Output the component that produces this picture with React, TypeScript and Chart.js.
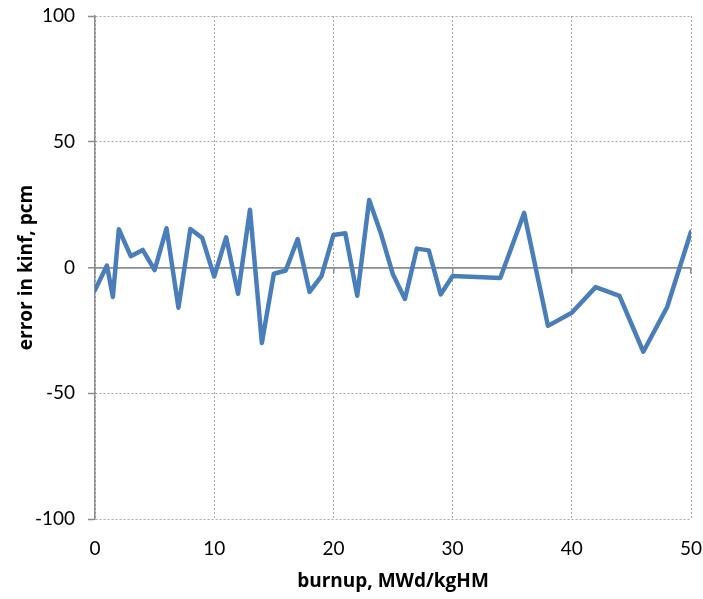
import React, { useEffect, useRef } from "react";
import { Chart, registerables } from "chart.js";

Chart.register(...registerables);

const burnup = [0, 1, 1.5, 2, 3, 4, 5, 6, 7, 8, 9, 10, 11, 12, 13, 14, 15, 16, 17, 18, 19, 20, 21, 22, 23, 24, 25, 26, 27, 28, 29, 30, 34, 36, 38, 40, 42, 44, 46, 48, 50];
const errorPcm = [-9, 0.8, -11.7, 15.2, 4.5, 7, -1, 15.6, -16, 15.3, 11.7, -3.6, 12, -10.5, 23, -30, -2.5, -1.2, 11.3, -9.7, -3.4, 12.9, 13.6, -11.2, 26.8, 13.3, -2.8, -12.5, 7.5, 6.8, -10.7, -3.4, -4.2, 21.7, -23.2, -18, -7.8, -11.3, -33.5, -15.7, 14.2];
const xTitle = "burnup, MWd/kgHM";
const yTitle = "error in kinf, pcm";
const xMin = 0, xMax = 50, xStep = 10;
const yMin = -100, yMax = 100, yStep = 50;

const FONT = "Lato, 'Open Sans', sans-serif";
const TITLE_FONT = "'Open Sans', sans-serif";
const GRID = "#a6a6a6";
const AXIS = "#8c8c8c";

export default function App() {
  const ref = useRef<HTMLCanvasElement>(null);
  useEffect(() => {
    document.body.style.margin = "0";
    const ctx = ref.current!.getContext("2d")!;
    const chart = new Chart(ctx, {
      type: "line",
      data: {
        datasets: [
          {
            data: burnup.map((x, i) => ({ x, y: errorPcm[i] })),
            borderColor: "#4a7ebb",
            borderWidth: 4.5,
            pointRadius: 0,
            tension: 0,
            borderJoinStyle: "round",
            borderCapStyle: "round",
          },
        ],
      },
      options: {
        animation: false,
        responsive: false,
        maintainAspectRatio: false,
        layout: { padding: { top: 16, right: 12, left: 0, bottom: 0 } },
        plugins: { legend: { display: false }, tooltip: { enabled: false } },
        scales: {
          x: {
            type: "linear",
            min: xMin,
            max: xMax,
            position: "bottom",
            afterFit: (s: any) => { s.height = 80; s.paddingLeft = 0; s.paddingRight = 0; },
            ticks: { stepSize: xStep, padding: 18, color: "#000", font: { family: FONT, size: 19 } },
            grid: { color: GRID, lineWidth: 1, drawTicks: false },
            border: { display: false, dash: [2, 2] },
            title: {
              display: true,
              text: xTitle,
              color: "#000",
              font: { family: TITLE_FONT, size: 19, weight: "bold" },
              padding: { top: 4, bottom: 6 },
            },
          },
          x2: {
            type: "linear",
            axis: "x",
            min: xMin,
            max: xMax,
            position: { y: 0 },
            ticks: { stepSize: xStep, display: false },
            grid: { drawOnChartArea: false, drawTicks: true, tickLength: 5, tickColor: AXIS, lineWidth: 1.5 },
            border: { display: true, color: AXIS, width: 1.5 },
          },
          y: {
            type: "linear",
            min: yMin,
            max: yMax,
            afterFit: (s: any) => { s.width = 95; s.paddingTop = 0; s.paddingBottom = 0; },
            ticks: { stepSize: yStep, padding: 13, color: "#000", font: { family: FONT, size: 19 } },
            grid: {
              color: (c: any) => (c.tick && c.tick.value === 0 ? AXIS : GRID),
              lineWidth: (c: any) => (c.tick && c.tick.value === 0 ? 1.5 : 1),
              drawTicks: true,
              tickLength: 7,
              tickColor: AXIS,
              tickWidth: 1.5,
              tickBorderDash: [],
            },
            border: {
              display: true,
              color: AXIS,
              width: 1.5,
              dash: (c: any) => (c.tick && c.tick.value === 0 ? [] : [2, 2]),
            },
            title: {
              display: true,
              text: yTitle,
              color: "#000",
              font: { family: TITLE_FONT, size: 19, weight: "bold" },
              padding: { top: 15, bottom: 0 },
            },
          },
        },
      },
    } as any);
    return () => chart.destroy();
  }, []);
  return (
    <div style={{ width: 703, height: 599 }}>
      <canvas ref={ref} width={703} height={599} style={{ display: "block" }} />
    </div>
  );
}
